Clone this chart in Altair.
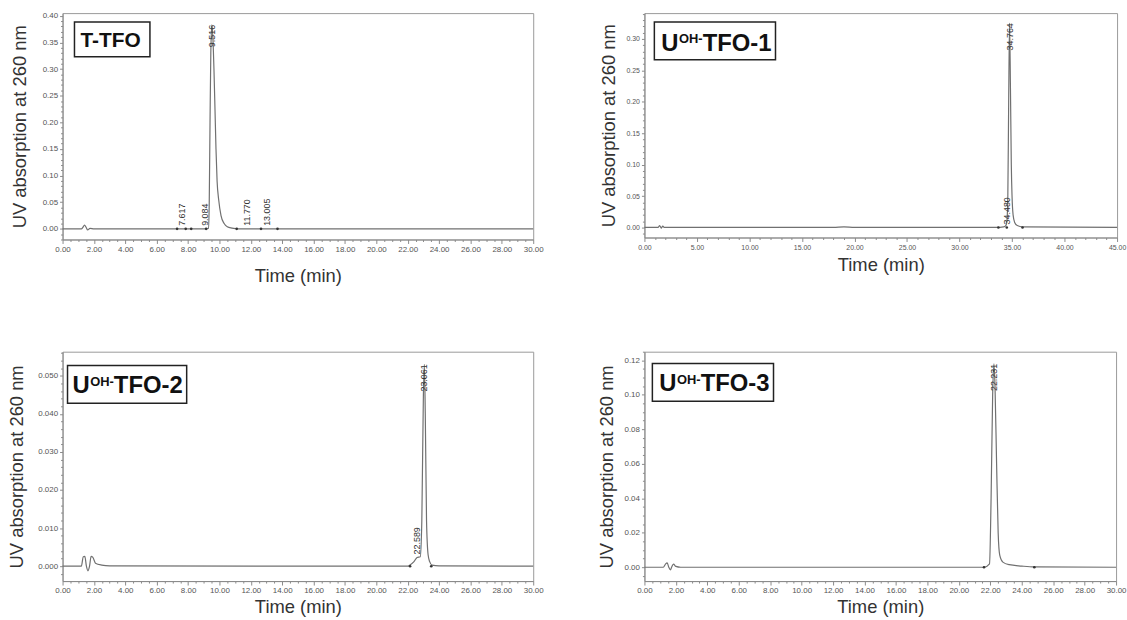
import altair as alt
import pandas as pd
import numpy as np

# ---------------- data ----------------
# Panel 1: T-TFO
t1 = [0, 1.2, 1.3, 1.4, 1.5, 1.6, 1.75, 2.0, 7.0, 9.2, 9.3, 9.35, 9.4, 9.45, 9.516, 9.58, 9.65,
      9.72, 9.78, 9.85, 9.95, 10.1, 10.3, 10.5, 10.8, 11.2, 30.0]
a1 = [0, 0, 0.003, 0.007, 0.003, -0.002, 0.001, 0, 0, 0, 0.001, 0.05, 0.2, 0.33, 0.383, 0.36, 0.30,
      0.22, 0.15, 0.09, 0.055, 0.025, 0.010, 0.004, 0.0015, 0, 0]
p1_top_rt = [9.516]
p1_top_h = [0.383]
p1_base_rt = [7.617, 9.084, 11.770, 13.005]
p1_base_h = [0, 0, 0, 0]
p1_marks = [7.3, 7.85, 8.2, 9.15, 11.1, 12.65, 13.7]

# Panel 2: UOH-TFO-1
t2 = [0, 1.3, 1.45, 1.6, 1.75, 1.9, 2.1, 18.0, 19.0, 20.0, 33.5, 34.2, 34.4, 34.5, 34.6, 34.68,
      34.764, 34.85, 34.93, 35.0, 35.1, 35.25, 35.5, 36.0, 45.0]
a2 = [0, 0, 0.003, -0.001, 0.002, 0, 0, 0, 0.001, 0, 0, 0.001, 0.003, 0.008, 0.05, 0.2,
      0.325, 0.22, 0.1, 0.05, 0.02, 0.008, 0.003, 0.001, 0]
p2_top_rt = [34.764]
p2_top_h = [0.325]
p2_base_rt = [34.480]
p2_base_h = [0]
p2_marks = [33.7, 34.5, 36.0]

# Panel 3: UOH-TFO-2
t3 = [0, 1.2, 1.32, 1.42, 1.52, 1.62, 1.72, 1.82, 1.92, 2.1, 2.5, 3.0, 22.0, 22.1, 22.4, 22.6,
      22.8, 22.9, 23.0, 23.061, 23.12, 23.2, 23.3, 23.4, 23.55, 24.0, 30.0]
a3 = [0, 0, 0.0025, 0.0026, 0.0, -0.0012, 0.0, 0.0026, 0.0024, 0.0008, 0.0003, 0.0001, 0, 0.0002,
      0.0012, 0.0023, 0.0025, 0.012, 0.045, 0.053, 0.04, 0.012, 0.003, 0.0012, 0.0003, 0.0001, 0]
p3_top_rt = [23.061]
p3_top_h = [0.053]
p3_base_rt = [22.589]
p3_base_h = [0.0023]
p3_marks = [22.15, 23.5]

# Panel 4: UOH-TFO-3
t4 = [0, 1.2, 1.35, 1.45, 1.55, 1.65, 1.75, 1.85, 2.0, 2.3, 21.6, 21.95, 22.05, 22.15, 22.231,
      22.3, 22.4, 22.5, 22.6, 22.8, 23.2, 24.0, 24.8, 30.0]
a4 = [0, 0, 0.002, 0.0025, 0.0, -0.0015, 0.0005, 0.0018, 0.0005, 0, 0, 0.002, 0.04, 0.1, 0.118,
      0.105, 0.06, 0.02, 0.007, 0.003, 0.0015, 0.0007, 0.0002, 0]
p4_top_rt = [22.231]
p4_top_h = [0.118]
p4_base_rt = []
p4_base_h = []
p4_marks = [21.6, 24.8]

FONT = "Liberation Sans"
LINE = "#707070"
AX = "#8a8a8a"
LAB = "#555555"


def ticks(lo, hi, step):
    n0 = int(np.ceil(lo / step - 1e-9))
    n1 = int(np.floor(hi / step + 1e-9))
    return [round(i * step, 6) for i in range(n0, n1 + 1)]


def is_major(m):
    return f"abs(datum.value/{m} - round(datum.value/{m})) < 0.000001"


def panel(t, a, top_rt, top_h, base_rt, base_h, marks, xmax, xmaj, xminor,
          ydom, ymaj, yminor, yfmt, w, h, ytitle_x, xtitle_y, xlab_size,
          box, parts):
    df = pd.DataFrame({"t": t, "a": a})
    xscale = alt.Scale(domain=[0, xmax], nice=False, zero=False)
    yscale = alt.Scale(domain=ydom, nice=False, zero=False)
    xt = ticks(0, xmax, xminor)
    yt = ticks(ydom[0], ydom[1], yminor)
    xaxis = alt.Axis(
        values=xt, tickCount=1000, format=".2f",
        labelExpr=f"{is_major(xmaj)} ? datum.label : ''",
        tickSize={"condition": {"test": is_major(xmaj), "value": 4}, "value": 2},
        labelFlush=False, labelOverlap=False, grid=False,
        labelFont=FONT, labelFontSize=xlab_size, labelColor=LAB, labelPadding=2,
        domainColor=AX, tickColor=AX,
        title="Time (min)", titleFont=FONT, titleFontSize=18.5, titleFontWeight="normal",
        titleColor="#333333", titleY=xtitle_y, titleBaseline="middle",
    )
    yaxis = alt.Axis(
        values=yt, tickCount=1000, format=yfmt,
        labelExpr=f"({is_major(ymaj)}) && datum.value > -0.0000001 ? datum.label : ''",
        tickSize={"condition": {"test": is_major(ymaj), "value": 3}, "value": 2},
        labelOverlap=False, grid=False,
        labelFont=FONT, labelFontSize=xlab_size, labelColor=LAB, labelPadding=2,
        domainColor=AX, tickColor=AX,
        title="UV absorption at 260 nm", titleFont=FONT, titleFontSize=18.5,
        titleFontWeight="normal", titleColor="#333333",
        titleX=ytitle_x, titleY=h / 2, titleAngle=270, titleAlign="center",
        titleBaseline="middle",
    )
    line = alt.Chart(df).mark_line(color=LINE, strokeWidth=1.2, interpolate="monotone").encode(
        x=alt.X("t:Q", scale=xscale, axis=xaxis),
        y=alt.Y("a:Q", scale=yscale, axis=yaxis),
    )
    layers = [line]
    if marks:
        mdf = pd.DataFrame({"t": marks, "a": [0] * len(marks)})
        layers.append(alt.Chart(mdf).mark_point(filled=True, size=7, color="#333333", opacity=1).encode(
            x=alt.X("t:Q", scale=xscale), y=alt.Y("a:Q", scale=yscale)))
    tdf = pd.DataFrame({"t": top_rt, "a": top_h, "lab": [f"{v:.3f}" for v in top_rt]})
    layers.append(alt.Chart(tdf).mark_text(angle=270, align="right", baseline="middle",
                                           font=FONT, fontSize=9, color="#333333").encode(
        x=alt.X("t:Q", scale=xscale), y=alt.Y("a:Q", scale=yscale), text="lab:N"))
    if base_rt:
        bdf = pd.DataFrame({"t": base_rt, "a": base_h, "lab": [f"{v:.3f}" for v in base_rt]})
        layers.append(alt.Chart(bdf).mark_text(angle=270, align="left", baseline="middle", dx=3,
                                               font=FONT, fontSize=9, color="#333333").encode(
            x=alt.X("t:Q", scale=xscale), y=alt.Y("a:Q", scale=yscale), text="lab:N"))
    one = pd.DataFrame({"k": [0]})
    bx0, bx1, by0, by1 = box
    layers.append(alt.Chart(one).mark_rect(fill="white", stroke="#222222", strokeWidth=1.5).encode(
        x=alt.value(bx0), x2=alt.value(bx1), y=alt.value(by0), y2=alt.value(by1)))
    for txt, px, py, fs in parts:
        layers.append(alt.Chart(one).mark_text(text=txt, align="left", baseline="alphabetic",
                                               font=FONT, fontSize=fs, fontWeight="bold",
                                               color="#111111").encode(
            x=alt.value(px), y=alt.value(py)))
    return alt.layer(*layers).properties(width=w, height=h)


def uoh(n, x0, base, fs=24, fs2=13):
    cap_top = base - fs * 0.716
    sup_base = cap_top + fs2 * 0.716
    x1 = x0 + fs * 0.722 + 0.5
    x2 = x1 + fs2 * 1.833
    return [("U", x0, base, fs), ("OH-", x1, sup_base, fs2), (f"TFO-{n}", x2, base, fs)]


c1 = panel(t1, a1, p1_top_rt, p1_top_h, p1_base_rt, p1_base_h, p1_marks,
           30, 2, 0.5, [-0.02, 0.405], 0.05, 0.01, ".2f", 474, 228, -43, 36, 8,
           (12, 88, 9, 44), [("T-TFO", 18, 34, 21)])
c2 = panel(t2, a2, p2_top_rt, p2_top_h, p2_base_rt, p2_base_h, p2_marks,
           45, 5, 1, [-0.016, 0.341], 0.05, 0.01, ".2f", 476, 226, -36, 27, 7,
           (10, 132, 9, 47), uoh(1, 17, 38))
c3 = panel(t3, a3, p3_top_rt, p3_top_h, p3_base_rt, p3_base_h, p3_marks,
           30, 2, 0.5, [-0.0039, 0.0563], 0.01, 0.002, ".3f", 474, 231, -46, 26, 8,
           (5, 125, 14, 52), uoh(2, 10, 42))
c4 = panel(t4, a4, p4_top_rt, p4_top_h, p4_base_rt, p4_base_h, p4_marks,
           30, 2, 0.5, [-0.008, 0.125], 0.02, 0.005, ".2f", 475, 231, -38, 26, 8,
           (8, 130, 12, 50), uoh(3, 15, 40))

chart = alt.concat(c1, c2, c3, c4, columns=2, spacing={"row": 62, "column": 53}).properties(
    padding={"left": 7, "top": 7, "right": 0, "bottom": 0},
    background="white",
).configure_view(stroke="#9a9a9a", strokeWidth=1)

chart.save("out.html", embed_options={"renderer": "svg", "actions": False})
